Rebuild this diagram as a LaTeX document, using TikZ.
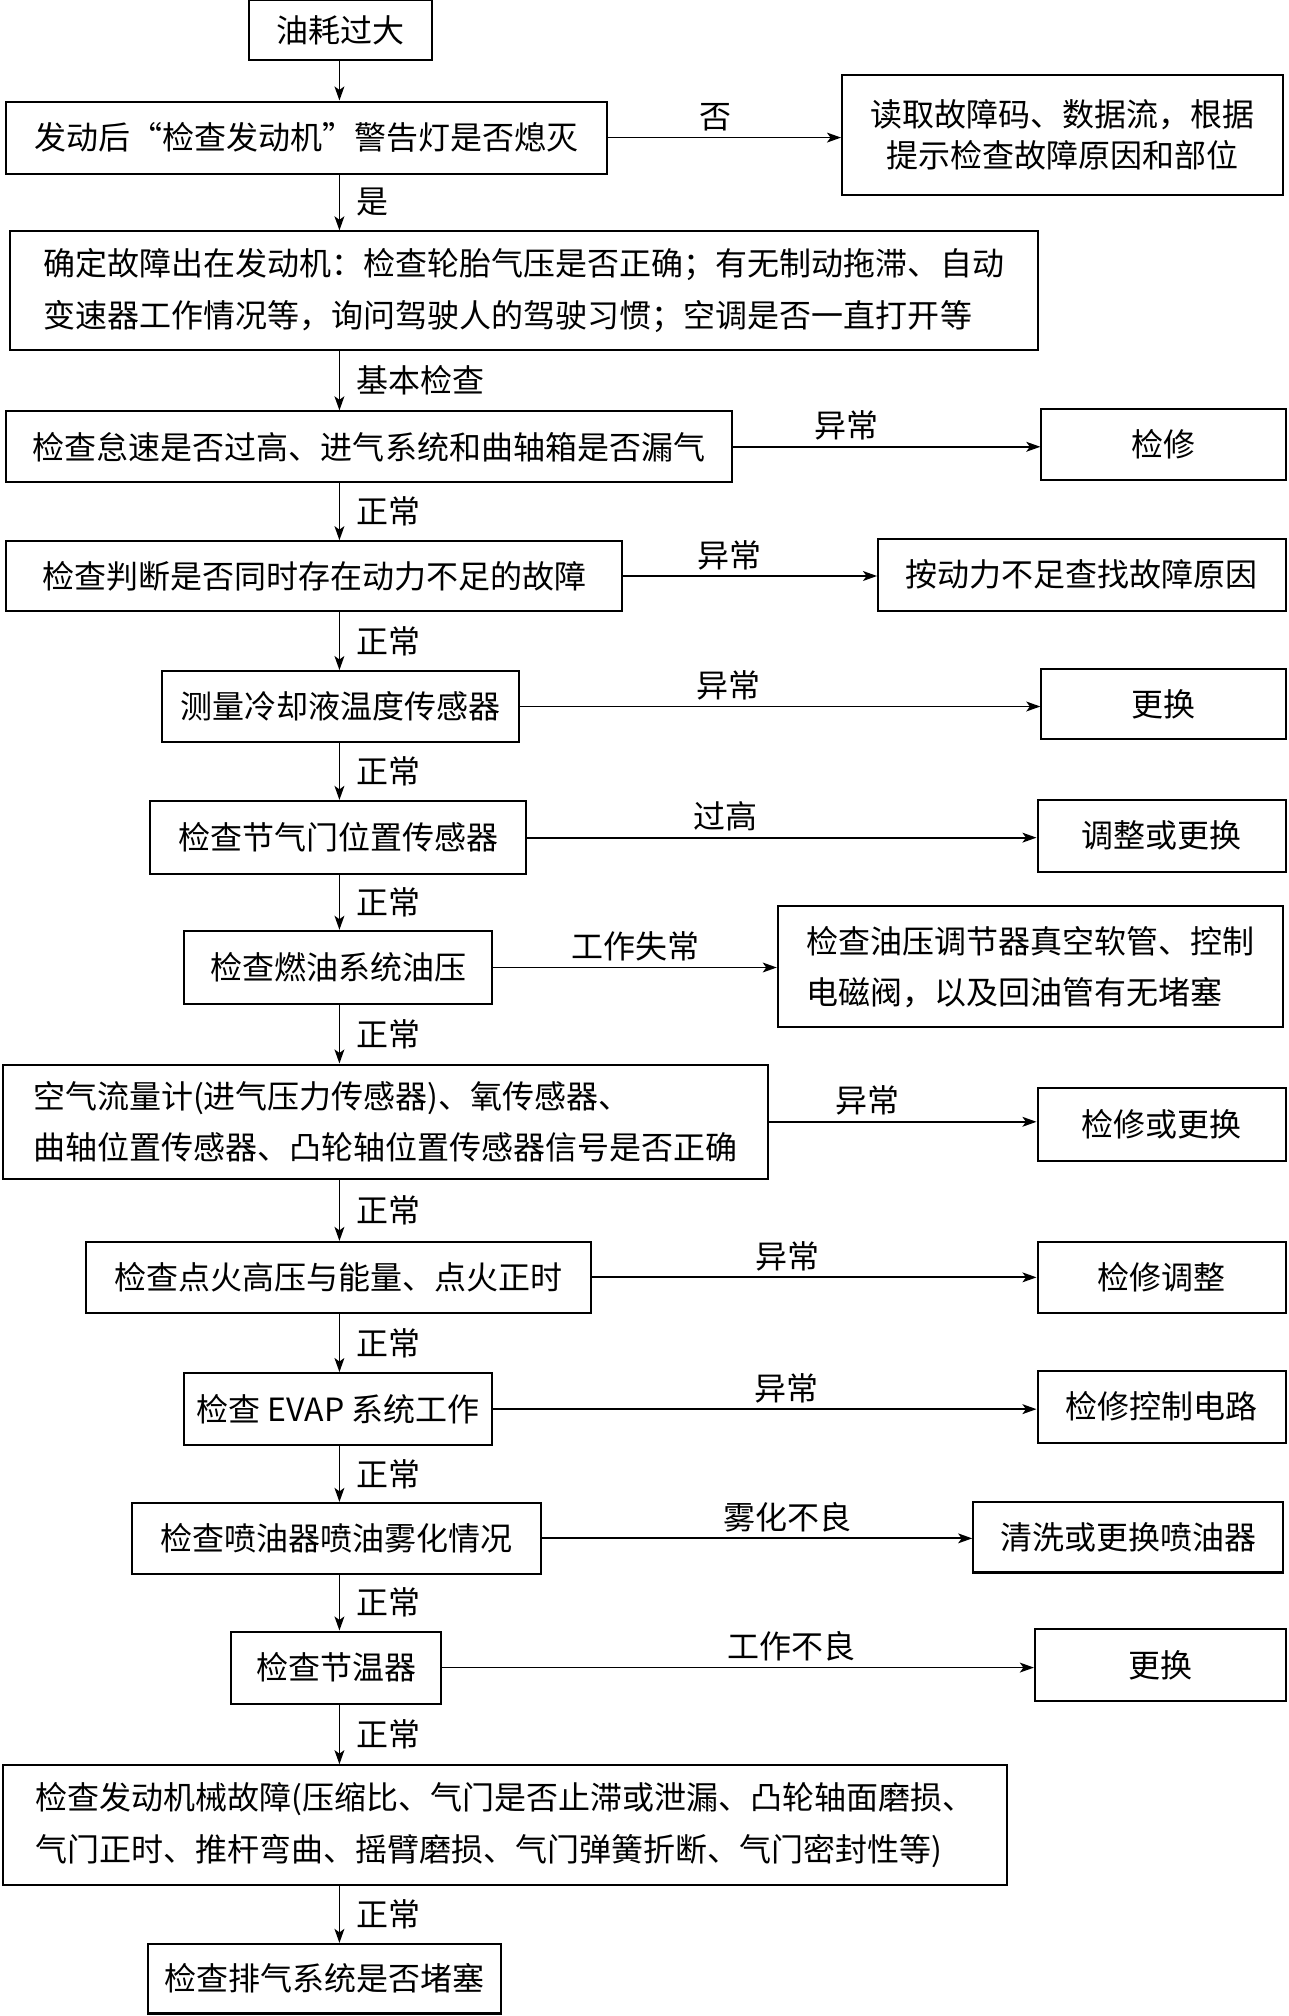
\documentclass[tikz,border=0pt]{standalone}
\usepackage{fontspec}
\setmainfont{Noto Sans CJK SC}
\usepackage{tikz}
\usetikzlibrary{arrows.meta}
\newcommand{\pxu}{0.012854cm}

\begin{document}
\begin{tikzpicture}[
  x=\pxu, y=-\pxu,
  every node/.style={font=\fontsize{9.1pt}{14.6pt}\selectfont},
  box/.style={rectangle, draw, line width=0.6pt, inner sep=0pt, align=center},
  wh/.style 2 args={minimum width=#1*\pxu, minimum height=#2*\pxu},
  flow/.style={-{Stealth[length=4pt, width=2.8pt, inset=1pt]}, line width=0.5pt},
  lbl/.style={inner sep=1.5pt},
]
  \useasboundingbox (0,0) rectangle (1002,1568);
  \coordinate (axis) at (264,0);

  % main column
  \node[box, wh={142}{47}] (start) at (265,23.5) {油耗过大};
  \node[box, wh={467}{56}] (lamp) at (238.5,107) {发动后“检查发动机”警告灯是否熄灭};
  \node[box, wh={799}{92}, align=left] (basic) at (407.5,226) {确定故障出在发动机：检查轮胎气压是否正确；有无制动拖滞、自动\\变速器工作情况等，询问驾驶人的驾驶习惯；空调是否一直打开等};
  \node[box, wh={564}{55}] (idle) at (287,347.5) {检查怠速是否过高、进气系统和曲轴箱是否漏气};
  \node[box, wh={479}{54}] (power) at (244.5,448) {检查判断是否同时存在动力不足的故障};
  \node[box, wh={278}{55}] (ect) at (265,549.5) {测量冷却液温度传感器};
  \node[box, wh={292}{57}] (tps) at (263,651.5) {检查节气门位置传感器};
  \node[box, wh={240}{57}] (fuel) at (263,752.5) {检查燃油系统油压};
  \node[box, wh={595}{89}, align=left] (sens) at (299.5,872.5) {空气流量计(进气压力传感器)、氧传感器、\\曲轴位置传感器、凸轮轴位置传感器信号是否正确};
  \node[box, wh={393}{55}] (ign) at (263.5,993.5) {检查点火高压与能量、点火正时};
  \node[box, wh={240}{56}] (evap) at (263,1096) {检查 EVAP 系统工作};
  \node[box, wh={318}{55}] (inj) at (262,1196.5) {检查喷油器喷油雾化情况};
  \node[box, wh={163}{56}] (thermo) at (261.5,1297) {检查节温器};
  \node[box, wh={781}{93}, align=left] (mech) at (392.5,1419.5) {检查发动机械故障(压缩比、气门是否止滞或泄漏、凸轮轴面磨损、\\气门正时、推杆弯曲、摇臂磨损、气门弹簧折断、气门密封性等)};
  \node[box, wh={275}{54}] (exh) at (252.5,1539) {检查排气系统是否堵塞};

  % right column
  \node[box, wh={343}{94}, font=\fontsize{9.1pt}{11.6pt}\selectfont] (dtc) at (826.5,105) {读取故障码、数据流，根据\\提示检查故障原因和部位};
  \node[box, wh={190}{55}] (fix1) at (905,345.5) {检修};
  \node[box, wh={317}{56}] (lowpw) at (841.5,447) {按动力不足查找故障原因};
  \node[box, wh={190}{55}] (swap1) at (905,547.5) {更换};
  \node[box, wh={193}{56}] (adj) at (903.5,650) {调整或更换};
  \node[box, wh={393}{94}, align=left] (reg) at (801.5,752) {检查油压调节器真空软管、控制\\电磁阀，以及回油管有无堵塞};
  \node[box, wh={193}{57}] (fix2) at (903.5,874.5) {检修或更换};
  \node[box, wh={193}{55}] (tune) at (903.5,993.5) {检修调整};
  \node[box, wh={193}{56}] (circ) at (903.5,1094) {检修控制电路};
  \node[box, wh={241}{55}] (clean) at (877.5,1195.5) {清洗或更换喷油器};
  \node[box, wh={195}{56}] (swap2) at (902.5,1295) {更换};

  % downward flow
  \draw[flow] (start.south -| axis) -- (lamp.north -| axis);
  \draw[flow] (lamp.south -| axis) -- node[lbl, right=3pt, midway] {是} (basic.north -| axis);
  \draw[flow] (basic.south -| axis) -- node[lbl, right=3pt, midway] {基本检查} (idle.north -| axis);
  \draw[flow] (idle.south -| axis) -- node[lbl, right=3pt, midway] {正常} (power.north -| axis);
  \draw[flow] (power.south -| axis) -- node[lbl, right=3pt, midway] {正常} (ect.north -| axis);
  \draw[flow] (ect.south -| axis) -- node[lbl, right=3pt, midway] {正常} (tps.north -| axis);
  \draw[flow] (tps.south -| axis) -- node[lbl, right=3pt, midway] {正常} (fuel.north -| axis);
  \draw[flow] (fuel.south -| axis) -- node[lbl, right=3pt, midway] {正常} (sens.north -| axis);
  \draw[flow] (sens.south -| axis) -- node[lbl, right=3pt, midway] {正常} (ign.north -| axis);
  \draw[flow] (ign.south -| axis) -- node[lbl, right=3pt, midway] {正常} (evap.north -| axis);
  \draw[flow] (evap.south -| axis) -- node[lbl, right=3pt, midway] {正常} (inj.north -| axis);
  \draw[flow] (inj.south -| axis) -- node[lbl, right=3pt, midway] {正常} (thermo.north -| axis);
  \draw[flow] (thermo.south -| axis) -- node[lbl, right=3pt, midway] {正常} (mech.north -| axis);
  \draw[flow] (mech.south -| axis) -- node[lbl, right=3pt, midway] {正常} (exh.north -| axis);

  % side branches
  \draw[flow] (lamp.east) -- node[lbl, above, pos=.46] {否} (lamp.east -| dtc.west);
  \draw[flow] (idle.east) -- node[lbl, above, pos=.37] {异常} (idle.east -| fix1.west);
  \draw[flow] (power.east) -- node[lbl, above, pos=.42] {异常} (power.east -| lowpw.west);
  \draw[flow] (ect.east) -- node[lbl, above, pos=.40] {异常} (ect.east -| swap1.west);
  \draw[flow] (tps.east) -- node[lbl, above, pos=.39] {过高} (tps.east -| adj.west);
  \draw[flow] (fuel.east) -- node[lbl, above, pos=.50] {工作失常} (fuel.east -| reg.west);
  \draw[flow] (sens.east) -- node[lbl, above, pos=.37] {异常} (sens.east -| fix2.west);
  \draw[flow] (ign.east) -- node[lbl, above, pos=.44] {异常} (ign.east -| tune.west);
  \draw[flow] (evap.east) -- node[lbl, above, pos=.54] {异常} (evap.east -| circ.west);
  \draw[flow] (inj.east) -- node[lbl, above, pos=.57] {雾化不良} (inj.east -| clean.west);
  \draw[flow] (thermo.east) -- node[lbl, above, pos=.59] {工作不良} (thermo.east -| swap2.west);
\end{tikzpicture}
\end{document}
